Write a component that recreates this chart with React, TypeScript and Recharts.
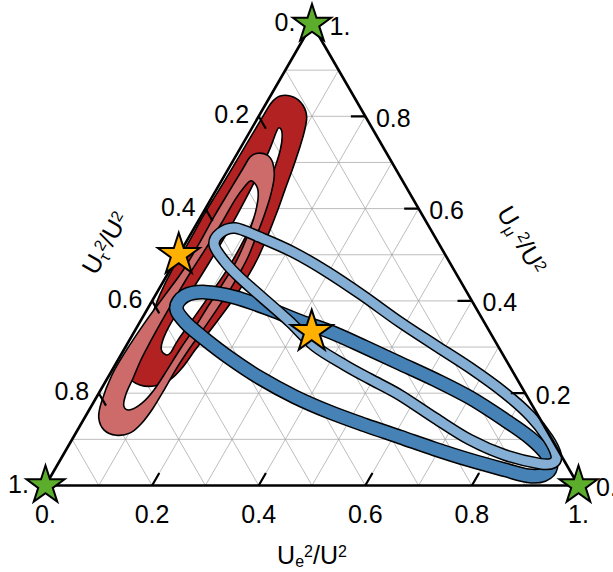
import React from 'react';
import { ScatterChart, Scatter, XAxis, YAxis } from 'recharts';

const H = Math.sqrt(3) / 2;
const FONT = '"Liberation Sans", Arial, Helvetica, sans-serif';

// ternary points as [Ue²/U², Uμ²/U²]; Uτ²/U² is the remainder
const darkBlueLoop = [
  [0.053, 0.385], [0.056, 0.411], [0.09, 0.419], [0.151, 0.408], [0.23, 0.382], [0.299, 0.356],
  [0.368, 0.333], [0.449, 0.3], [0.532, 0.265], [0.617, 0.229], [0.702, 0.19], [0.791, 0.142],
  [0.858, 0.103], [0.908, 0.066], [0.928, 0.04], [0.922, 0.023], [0.895, 0.021], [0.845, 0.034],
  [0.769, 0.055], [0.691, 0.079], [0.613, 0.105], [0.534, 0.131], [0.454, 0.159], [0.372, 0.192],
  [0.286, 0.233], [0.208, 0.276], [0.136, 0.32], [0.085, 0.354],
];

const lightBlueLoop = [
  [0.056, 0.521], [0.054, 0.547], [0.077, 0.558], [0.133, 0.538], [0.211, 0.506], [0.297, 0.463],
  [0.387, 0.413], [0.488, 0.354], [0.579, 0.304], [0.669, 0.255], [0.762, 0.2], [0.834, 0.151],
  [0.891, 0.103], [0.925, 0.066], [0.928, 0.049], [0.905, 0.047], [0.829, 0.066], [0.747, 0.099],
  [0.658, 0.146], [0.567, 0.196], [0.493, 0.231], [0.431, 0.261], [0.354, 0.302], [0.282, 0.354],
  [0.202, 0.408], [0.14, 0.45], [0.095, 0.484],
];

const darkRedOuter = [
  [0.018, 0.844], [0.044, 0.842], [0.071, 0.824], [0.091, 0.798], [0.103, 0.764], [0.112, 0.727],
  [0.121, 0.684], [0.129, 0.64], [0.138, 0.593], [0.146, 0.543], [0.152, 0.493], [0.153, 0.45],
  [0.151, 0.408], [0.146, 0.369], [0.14, 0.33], [0.134, 0.294], [0.129, 0.255], [0.119, 0.229],
  [0.098, 0.216], [0.068, 0.218], [0.041, 0.235], [0.028, 0.276], [0.023, 0.315], [0.017, 0.359],
  [0.008, 0.413], [0.004, 0.467], [0.005, 0.521], [0.004, 0.59], [0.006, 0.662], [0.007, 0.736],
  [0.008, 0.796], [0.009, 0.829],
];

const darkRedHole = [
  [0.051, 0.775], [0.063, 0.762], [0.077, 0.727], [0.089, 0.673], [0.099, 0.608], [0.106, 0.536],
  [0.107, 0.471], [0.102, 0.413], [0.096, 0.359], [0.091, 0.315], [0.091, 0.289], [0.085, 0.283],
  [0.068, 0.298], [0.06, 0.333], [0.06, 0.385], [0.064, 0.441], [0.066, 0.499], [0.067, 0.558],
  [0.065, 0.623], [0.061, 0.684], [0.056, 0.731], [0.05, 0.766],
];

const lightRedOuter = [
  [0.028, 0.712], [0.038, 0.72], [0.058, 0.716], [0.077, 0.699], [0.095, 0.668], [0.109, 0.625],
  [0.118, 0.584], [0.125, 0.543], [0.132, 0.499], [0.134, 0.463], [0.134, 0.424], [0.131, 0.385],
  [0.127, 0.341], [0.122, 0.298], [0.119, 0.255], [0.119, 0.211], [0.118, 0.168], [0.113, 0.135],
  [0.102, 0.114], [0.078, 0.109], [0.05, 0.12], [0.027, 0.146], [0.015, 0.179], [0.005, 0.239],
  [0.005, 0.289], [0.01, 0.354], [0.018, 0.413], [0.025, 0.467], [0.026, 0.521], [0.025, 0.58],
  [0.026, 0.64], [0.027, 0.688],
];

const lightRedHole = [
  [0.056, 0.66], [0.075, 0.645], [0.089, 0.619], [0.101, 0.58], [0.11, 0.532], [0.115, 0.484],
  [0.114, 0.439], [0.111, 0.391], [0.109, 0.343], [0.105, 0.298], [0.103, 0.25], [0.1, 0.207],
  [0.092, 0.179], [0.077, 0.164], [0.061, 0.172], [0.052, 0.198], [0.048, 0.233], [0.043, 0.272],
  [0.041, 0.311], [0.04, 0.354], [0.04, 0.406], [0.041, 0.46], [0.044, 0.515], [0.046, 0.571],
  [0.046, 0.619], [0.05, 0.649],
];

const cornerStars = [[0, 1], [0, 0], [1, 0]];
const referenceStars = [[0, 0.5], [0.333, 0.333]];

const tickValues = [0, 0.2, 0.4, 0.6, 0.8, 1];
const tickLabels = ['0.', '0.2', '0.4', '0.6', '0.8', '1.'];
const innerTicks = [0.2, 0.4, 0.6, 0.8];
const gridValues = [0.1, 0.2, 0.3, 0.4, 0.5, 0.6, 0.7, 0.8, 0.9];
const TICK_LEN = 0.027;

const pt = (e: number, mu: number) => ({ x: e + mu / 2, y: mu * H });

const gridRows = gridValues.flatMap((k) => [
  pt(0, k), pt(1 - k, k),
  pt(k, 0), pt(k, 1 - k),
  pt(1 - k, 0), pt(0, 1 - k),
]);
const edgeRows = [pt(0, 0), pt(1, 0), pt(1, 0), pt(0, 1), pt(0, 1), pt(0, 0)];
const tickRows = innerTicks.flatMap((k) => [
  pt(k, 0), pt(k, TICK_LEN),
  pt(1 - k, k), pt(1 - k - TICK_LEN, k),
  pt(0, 1 - k), pt(TICK_LEN, 1 - k - TICK_LEN),
]);

const bottomLabels = tickValues.map((k, i) => ({ ...pt(k, 0), label: tickLabels[i] }));
const leftLabels = tickValues.map((k, i) => ({ ...pt(0, 1 - k), label: tickLabels[i] }));
const rightLabels = tickValues.map((k, i) => ({ ...pt(1 - k, k), label: tickLabels[i] }));

const ring = (list: number[][]) => list.map(([e, mu]) => pt(e, mu));
const darkRedRows = [...ring(darkRedOuter), ...ring(darkRedHole)];
const lightRedRows = [...ring(lightRedOuter), ...ring(lightRedHole)];

function smoothClosed(pts: { x: number; y: number }[]) {
  const n = pts.length;
  let d = `M${pts[0].x},${pts[0].y}`;
  for (let i = 0; i < n; i++) {
    const p0 = pts[(i - 1 + n) % n];
    const p1 = pts[i];
    const p2 = pts[(i + 1) % n];
    const p3 = pts[(i + 2) % n];
    const c1x = p1.x + (p2.x - p0.x) / 6;
    const c1y = p1.y + (p2.y - p0.y) / 6;
    const c2x = p2.x - (p3.x - p1.x) / 6;
    const c2y = p2.y - (p3.y - p1.y) / 6;
    d += `C${c1x},${c1y} ${c2x},${c2y} ${p2.x},${p2.y}`;
  }
  return d + 'Z';
}

const noDot = () => <g />;

const segmentLine = (stroke: string, width: number) => (props: any) => {
  const p = props.points;
  let d = '';
  for (let i = 0; i + 1 < p.length; i += 2) d += `M${p[i].x},${p[i].y}L${p[i + 1].x},${p[i + 1].y}`;
  return <path d={d} fill="none" stroke={stroke} strokeWidth={width} strokeLinecap="butt" />;
};

const bandLine = (color: string, width: number) => (props: any) => {
  const d = smoothClosed(props.points);
  return (
    <g>
      <path d={d} fill="none" stroke="#000" strokeWidth={width + 3} strokeLinejoin="round" />
      <path d={d} fill="none" stroke={color} strokeWidth={width} strokeLinejoin="round" />
    </g>
  );
};

const holeLine = (color: string, nOuter: number) => (props: any) => {
  const p = props.points;
  const d = smoothClosed(p.slice(0, nOuter)) + smoothClosed(p.slice(nOuter));
  return <path d={d} fill={color} fillRule="evenodd" stroke="#000" strokeWidth={1.6} strokeLinejoin="round" />;
};

const labelShape = (dx: number, dy: number) => (p: any) => (
  <text x={p.cx + dx} y={p.cy + dy} textAnchor="middle" fontSize={25} fontFamily={FONT} fill="#000">
    {p.payload.label}
  </text>
);

const starShape = (fill: string, R: number) => (p: any) => {
  const r = R * 0.382;
  const pts: string[] = [];
  for (let i = 0; i < 10; i++) {
    const rad = i % 2 === 0 ? R : r;
    const a = -Math.PI / 2 + (i * Math.PI) / 5;
    pts.push(`${p.cx + rad * Math.cos(a)},${p.cy + rad * Math.sin(a)}`);
  }
  return <polygon points={pts.join(' ')} fill={fill} stroke="#000" strokeWidth={2} strokeLinejoin="miter" />;
};

const titleShape = (dx: number, dy: number, angle: number, sub: string, gap: string) => (p: any) => (
  <text
    transform={`translate(${p.cx + dx},${p.cy + dy}) rotate(${angle})`}
    x={0}
    y={9}
    textAnchor="middle"
    fontSize={25}
    fontFamily={FONT}
    fill="#000"
  >
    U
    <tspan fontSize={16} dy={3.5}>{sub}</tspan>
    <tspan fontSize={16} dy={-9.9}>{gap}2</tspan>
    <tspan dy={6.4}>/U</tspan>
    <tspan fontSize={16} dy={-6.4}>2</tspan>
  </text>
);

export default function App() {
  return (
    <>
      <style>{'body{margin:0}'}</style>
      <ScatterChart width={613} height={572} margin={{ top: 24, right: 34.5, bottom: 86.5, left: 45.5 }}>
        <XAxis type="number" dataKey="x" domain={[0, 1]} hide />
        <YAxis type="number" dataKey="y" domain={[0, H]} hide />
        <Scatter data={gridRows} line={segmentLine('#a0a0a0', 0.7)} shape={noDot} isAnimationActive={false} />
        <Scatter data={darkRedRows} line={holeLine('#b22222', darkRedOuter.length)} shape={noDot} isAnimationActive={false} />
        <Scatter data={lightRedRows} line={holeLine('#cd6b6b', lightRedOuter.length)} shape={noDot} isAnimationActive={false} />
        <Scatter data={ring(darkBlueLoop)} line={bandLine('#4682b6', 12)} shape={noDot} isAnimationActive={false} />
        <Scatter data={ring(lightBlueLoop)} line={bandLine('#84aed3', 9)} shape={noDot} isAnimationActive={false} />
        <Scatter data={edgeRows} line={segmentLine('#000', 2.6)} shape={noDot} isAnimationActive={false} />
        <Scatter data={tickRows} line={segmentLine('#000', 2.2)} shape={noDot} isAnimationActive={false} />
        <Scatter data={bottomLabels} shape={labelShape(0, 37)} isAnimationActive={false} />
        <Scatter data={leftLabels} shape={labelShape(-27, 7)} isAnimationActive={false} />
        <Scatter data={rightLabels} shape={labelShape(28, 10.5)} isAnimationActive={false} />
        <Scatter data={[pt(0.5, 0)]} shape={titleShape(0, 69, 0, 'e', '')} isAnimationActive={false} />
        <Scatter data={[pt(0, 0.5)]} shape={titleShape(-74, -12, -60, 'τ', '')} isAnimationActive={false} />
        <Scatter data={[pt(0.5, 0.5)]} shape={titleShape(77, -15, 60, 'μ', '\u2009')} isAnimationActive={false} />
        <Scatter data={cornerStars.map(([e, mu]) => pt(e, mu))} shape={starShape('#5cad2c', 20)} isAnimationActive={false} />
        <Scatter data={referenceStars.map(([e, mu]) => pt(e, mu))} shape={starShape('#ffb000', 22)} isAnimationActive={false} />
      </ScatterChart>
    </>
  );
}
